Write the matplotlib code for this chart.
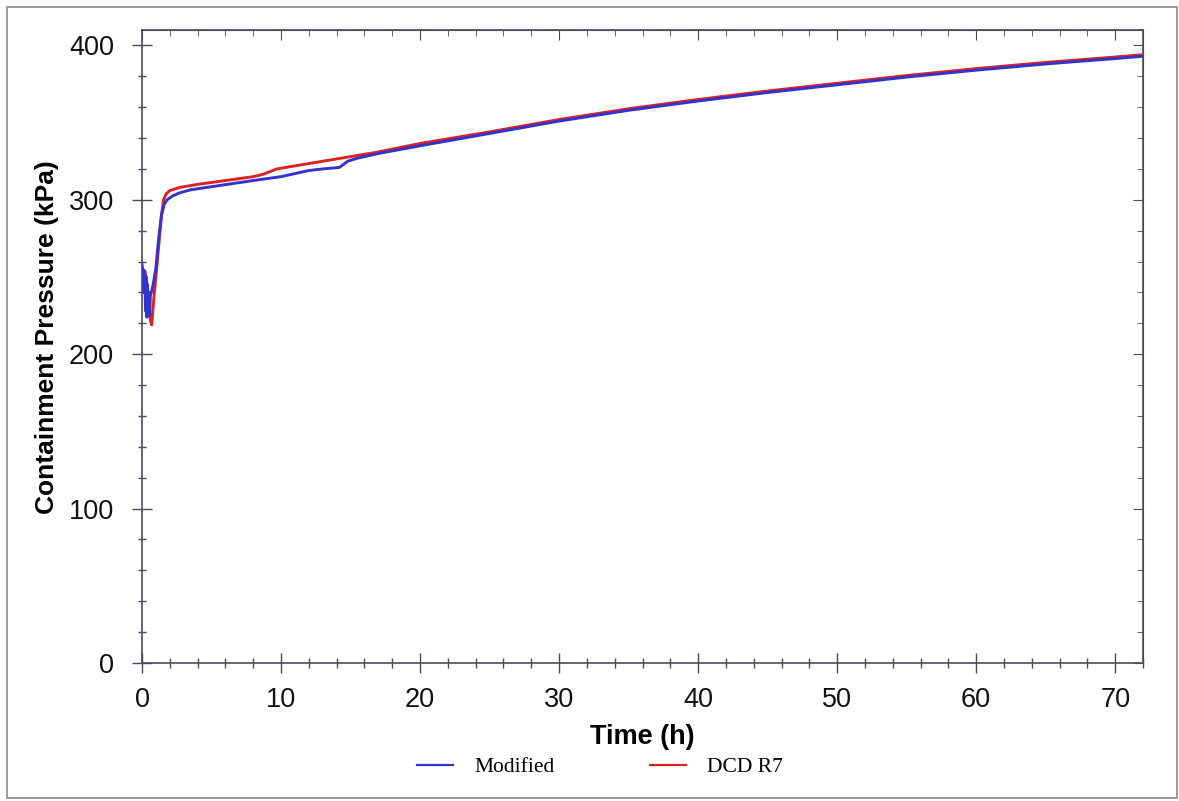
import matplotlib
matplotlib.use("Agg")
import matplotlib.pyplot as plt
from matplotlib.patches import Rectangle
from matplotlib.ticker import MultipleLocator

# Data
time_modified = [0, 0.1, 0.15, 0.2, 0.25, 0.3, 0.35, 0.4, 0.45, 0.5, 0.55, 0.6, 0.7,
                 0.8, 1.0, 1.2, 1.4, 1.6, 1.8, 2.2, 2.7, 3.5, 5, 6.5, 8, 10, 11, 12,
                 13, 14.2, 14.8, 15.5, 17, 20, 25, 30, 35, 40, 45, 50, 55, 60, 65, 70, 72]
pres_modified = [258, 252, 240, 254, 228, 250, 224, 245, 226, 240, 225, 238, 241,
                 245, 256, 275, 290, 297, 300, 302.5, 304.5, 306.5, 308.5, 310.5, 312.5, 315, 317, 319,
                 320, 321, 325, 327, 330, 335, 343, 351, 358, 364, 369.5, 374.5, 379.5, 384, 388, 391.5, 393]

time_dcd = [0, 0.2, 0.3, 0.45, 0.6, 0.7, 0.85, 1.0, 1.2, 1.4, 1.55, 1.75, 2.0, 2.7, 4,
            6, 8, 8.7, 9.7, 11, 13, 15, 17, 20, 25, 30, 35, 40, 45, 50, 55, 60, 65, 70, 72]
pres_dcd = [256, 253, 250, 235, 222, 219, 236, 250, 270, 290, 300, 304, 306, 308, 310,
            312.5, 315, 316.5, 320, 322, 325, 328, 331, 336.5, 344, 352, 359, 365, 370.5,
            375.5, 380.5, 385, 389, 392.5, 394]

series_labels = ["Modified", "DCD R7"]
x_label = "Time (h)"
y_label = "Containment Pressure (kPa)"

axis_color = "#4a4a5c"

fig = plt.figure(figsize=(11.79, 8.01), dpi=100)
fig.patch.set_facecolor("white")
ax = fig.add_axes([142/1179, 1 - 663/801, (1143-142)/1179, (663-30)/801])

ax.plot(time_dcd, pres_dcd, color="#dd2222", lw=2.1, label=series_labels[1], zorder=3)
ax.plot(time_modified, pres_modified, color="#3333cc", lw=2.1, label=series_labels[0], zorder=4)

ax.set_xlim(0, 72)
ax.set_ylim(0, 410)
ax.xaxis.set_major_locator(MultipleLocator(10))
ax.xaxis.set_minor_locator(MultipleLocator(2))
ax.yaxis.set_major_locator(MultipleLocator(100))
ax.yaxis.set_minor_locator(MultipleLocator(20))

for s in ax.spines.values():
    s.set_color(axis_color)
    s.set_linewidth(1.2)

ax.tick_params(which="both", colors=axis_color, labelcolor="#111111", width=1.0)
ax.tick_params(axis="x", which="major", direction="inout", length=14, pad=10,
               labelsize=19.5, top=False)
ax.tick_params(axis="x", which="minor", direction="inout", length=7, top=False)
ax.tick_params(axis="y", which="major", direction="inout", length=14, pad=13,
               labelsize=19.5, right=False)
ax.tick_params(axis="y", which="minor", direction="inout", length=6, right=False)

# top and right ticks pointing inward
secx = ax.secondary_xaxis("top")
secx.xaxis.set_major_locator(MultipleLocator(10))
secx.xaxis.set_minor_locator(MultipleLocator(2))
secx.tick_params(which="major", direction="in", length=7, colors=axis_color, labeltop=False)
secx.tick_params(which="minor", direction="in", length=4, colors=axis_color)
secx.spines["top"].set_color(axis_color)
secy = ax.secondary_yaxis("right")
secy.yaxis.set_major_locator(MultipleLocator(100))
secy.yaxis.set_minor_locator(MultipleLocator(20))
secy.tick_params(which="major", direction="in", length=7, colors=axis_color, labelright=False)
secy.tick_params(which="minor", direction="in", length=4, colors=axis_color)
secy.spines["right"].set_color(axis_color)

for lab in ax.get_xticklabels() + ax.get_yticklabels():
    lab.set_family("Liberation Sans")

ax.set_xlabel(x_label, fontsize=19.5, fontweight="bold", family="Liberation Sans", labelpad=8)
ax.set_ylabel(y_label, fontsize=19, fontweight="bold", family="Liberation Sans", labelpad=12)
ax.yaxis.set_label_coords(-0.083, 0.515)

handles, labels = ax.get_legend_handles_labels()
order = [1, 0]
leg = fig.legend([handles[i] for i in order], [labels[i] for i in order],
                 loc="center", bbox_to_anchor=(600/1179, 1 - 767/801), ncol=2,
                 frameon=False, prop={"family": "Liberation Serif", "size": 15.5},
                 handlelength=1.65, handletextpad=1.0, columnspacing=4.45)
for ln in leg.get_lines():
    ln.set_linewidth(1.6)

fig.add_artist(Rectangle((7/1179, 3/801), (1177-7)/1179, (794-3)/801,
                         transform=fig.transFigure, fill=False,
                         edgecolor="#8a8a8a", lw=1.2))

fig.savefig("out.png", dpi=100)
